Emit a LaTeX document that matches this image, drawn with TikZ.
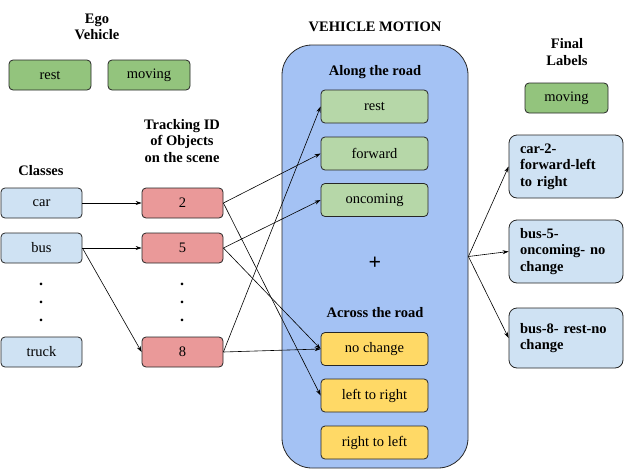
\documentclass[tikz,border=0pt]{standalone}
\usepackage{fontspec}
\setmainfont{Liberation Serif}
\usetikzlibrary{arrows.meta}
\definecolor{egog}{HTML}{93C47D}
\definecolor{lgreen}{HTML}{B6D7A8}
\definecolor{lred}{HTML}{EA9999}
\definecolor{lblue}{HTML}{CFE2F3}
\definecolor{lyellow}{HTML}{FFD966}
\definecolor{bigblue}{HTML}{A4C2F4}
\begin{document}
\begin{tikzpicture}[x=1pt,y=-1pt,
  font=\fontsize{14.5}{16.5}\selectfont,
  box/.style={draw=black!85, rounded corners=4pt, line width=0.8pt, inner sep=0pt, align=center, minimum height=30pt},
  ttl/.style={font=\fontsize{14.5}{16.5}\selectfont\bfseries, align=center, inner sep=0pt},
  arr/.style={-{Stealth[length=6pt,width=4pt]}, line width=0.6pt},
  lbl/.style={draw=black!85, rounded corners=8pt, line width=0.8pt, fill=lblue, align=left, text width=92pt, inner xsep=11pt, minimum width=114pt, font=\fontsize{14.5}{16.5}\selectfont\bfseries}]
\useasboundingbox (0,0) rectangle (624,469);
% big rectangle
\node (vm) [draw=black!85, fill=bigblue, rounded corners=30pt, line width=0.8pt, minimum width=186pt, minimum height=423pt, inner sep=0pt] at (375,256.5) {};
% titles
\node (tego) [ttl] at (97,27) {Ego\\Vehicle};
\node (tcls) [ttl] at (41,171) {Classes};
\node (ttrk) [ttl] at (182,141) {Tracking ID\\of Objects\\on the scene};
\node (tvm) [ttl] at (375,27) {VEHICLE MOTION};
\node (tal) [ttl] at (375,72) {Along the road};
\node (plus) [ttl, font=\fontsize{22}{24}\selectfont\bfseries] at (375,263) {+};
\node (tac) [ttl] at (375,313) {Across the road};
\node (tfin) [ttl] at (567,52) {Final\\Labels};
% ego
\node (erest) [box, fill=egog, minimum width=82pt] at (50,75) {rest};
\node (emov) [box, fill=egog, minimum width=82pt] at (149,75) {moving};
% classes
\node (car) [box, fill=lblue, minimum width=81pt] at (41.5,203) {car};
\node (bus) [box, fill=lblue, minimum width=81pt] at (41.5,248) {bus};
\node (truck) [box, fill=lblue, minimum width=81pt] at (41.5,352) {truck};
\node (cd1) [font=\fontsize{16}{18}\selectfont\bfseries] at (41,284) {.};
\node (cd2) [font=\fontsize{16}{18}\selectfont\bfseries] at (41,302) {.};
\node (cd3) [font=\fontsize{16}{18}\selectfont\bfseries] at (41,320) {.};
% ids
\node (i2) [box, fill=lred, minimum width=81pt] at (182.5,203) {2};
\node (i5) [box, fill=lred, minimum width=81pt] at (182.5,248) {5};
\node (i8) [box, fill=lred, minimum width=81pt] at (182.5,352) {8};
\node (id1) [font=\fontsize{16}{18}\selectfont\bfseries] at (182,284) {.};
\node (id2) [font=\fontsize{16}{18}\selectfont\bfseries] at (182,302) {.};
\node (id3) [font=\fontsize{16}{18}\selectfont\bfseries] at (182,320) {.};
% along
\node (arest) [box, fill=lgreen, minimum width=107pt, minimum height=33pt] at (374.5,106.5) {rest};
\node (afwd) [box, fill=lgreen, minimum width=107pt, minimum height=33pt] at (374.5,153.5) {forward};
\node (aonc) [box, fill=lgreen, minimum width=107pt, minimum height=33pt] at (374.5,200) {oncoming};
% across
\node (cno) [box, fill=lyellow, minimum width=107pt, minimum height=33pt] at (374.5,349) {no change};
\node (clr) [box, fill=lyellow, minimum width=107pt, minimum height=33pt] at (374.5,395.5) {left to right};
\node (crl) [box, fill=lyellow, minimum width=107pt, minimum height=33pt] at (374.5,442.5) {right to left};
% final
\node (fmov) [box, fill=egog, minimum width=83pt] at (566.5,98) {moving};
\node (f1) [lbl, minimum height=63pt] at (566,166.5) {car-2-\\forward-left\\to right};
\node (f2) [lbl, minimum height=63pt] at (566,251.5) {bus-5-\\oncoming- no\\change};
\node (f3) [lbl, minimum height=60pt] at (566,338) {bus-8- rest-no\\change};
% connectors
\draw[arr] (car.east) -- (i2.west);
\draw[arr] (bus.east) -- (i5.west);
\draw[arr] (bus.east) -- (i8.west);
\draw[arr] (i2.east) -- (afwd.west);
\draw[arr] (i2.east) -- (clr.west);
\draw[arr] (i5.east) -- (aonc.west);
\draw[arr] (i5.east) -- (cno.west);
\draw[arr] (i8.east) -- (arest.west);
\draw[arr] (i8.east) -- (cno.west);
\coordinate (fork) at (vm.east);
\draw[arr] (fork) -- (f1.west);
\draw[arr] (fork) -- (f2.west);
\draw[arr] (fork) -- (f3.west);
\end{tikzpicture}
\end{document}
